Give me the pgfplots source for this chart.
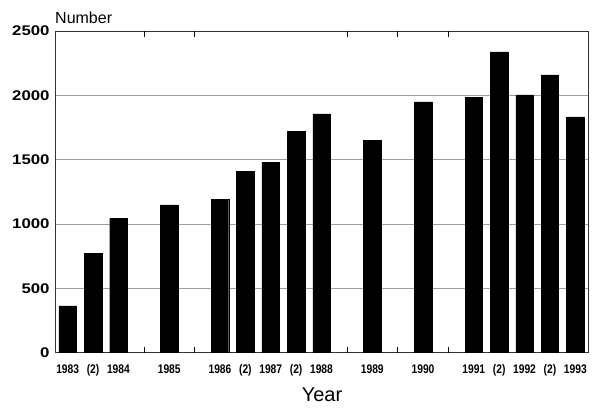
\documentclass[border=0pt]{standalone}
\usepackage{fontspec}
\setmainfont{Liberation Sans}
\usepackage{pgfplots}
\pgfplotsset{compat=1.18}
\definecolor{gridgray}{gray}{0.62}

\begin{document}
\begin{tikzpicture}
\useasboundingbox (-55pt,-55.5pt) rectangle (545pt,352.5pt);
\begin{axis}[
    scale only axis,
    width=533pt,
    height=321.5pt,
    xmin=-0.5, xmax=20.5,
    ymin=0, ymax=2500,
    ytick={0,500,...,2500},
    ymajorgrids,
    grid style={gridgray, line width=0.5pt},
    axis line style={line width=0.6pt, black!80},
    xtick={0,1,2,4,6,7,8,9,10,12,14,16,17,18,19,20},
    xticklabels={1983,(2),1984,1985,1986,(2),1987,(2),1988,1989,1990,1991,(2),1992,(2),1993},
    extra x ticks={3,5,11,13,15},
    extra x tick labels={},
    extra x tick style={major tick length=6pt, tick align=inside, grid=none,
        tick style={line width=0.6pt, black}},
    major tick length=0pt,
    xticklabel style={font=\fontsize{12.5}{12.5}\selectfont\bfseries, xscale=0.82,
        anchor=base, yshift=-21pt, inner sep=0pt},
    yticklabel style={font=\fontsize{14}{14}\selectfont\bfseries, xscale=1.2, xshift=-1pt},
    /pgf/number format/assume math mode=true,
    /pgf/number format/set thousands separator={},
    ybar,
    bar width=17.5pt,
    clip=false,
]
\addplot[fill=black, draw=black] coordinates {
    (0,363) (1,773) (2,1042) (4,1148) (6,1190) (7,1407) (8,1479) (9,1719)
    (10,1856) (12,1647) (14,1949) (16,1986) (17,2337) (18,2003) (19,2159) (20,1833)
};
\node[anchor=base west, font=\fontsize{16}{16}\selectfont, inner sep=0pt]
    at (rel axis cs:0,1) [yshift=7.7pt] {Number};
\node[anchor=base, font=\fontsize{20}{20}\selectfont, inner sep=0pt]
    at (rel axis cs:0.5,0) [yshift=-49pt, xshift=0.5pt] {Year};
\end{axis}
\end{tikzpicture}
\end{document}
